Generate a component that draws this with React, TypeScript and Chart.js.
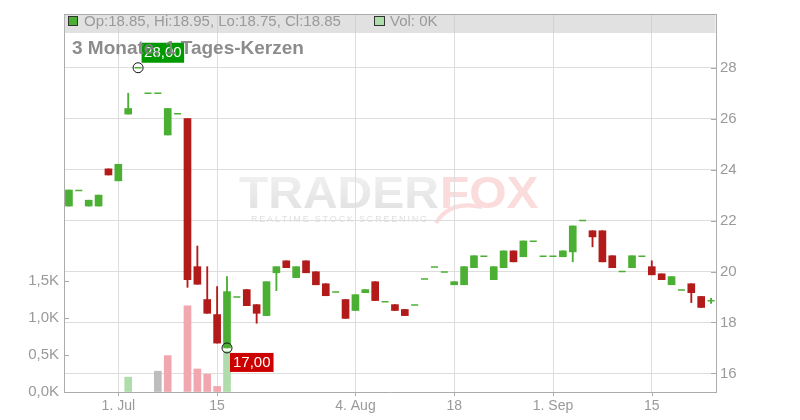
import React, { useEffect, useRef } from 'react';
import { Chart, registerables } from 'chart.js';

Chart.register(...registerables);

// ---- data (trading days, 1-day candles) ----
const dates = [
  '2025-06-24', '2025-06-25', '2025-06-26', '2025-06-27', '2025-06-30',
  '2025-07-01', '2025-07-02', '2025-07-03', '2025-07-04', '2025-07-07',
  '2025-07-08', '2025-07-09', '2025-07-10', '2025-07-11', '2025-07-14',
  '2025-07-15', '2025-07-16', '2025-07-17', '2025-07-18', '2025-07-21',
  '2025-07-22', '2025-07-23', '2025-07-24', '2025-07-25', '2025-07-28',
  '2025-07-29', '2025-07-30', '2025-07-31', '2025-08-01', '2025-08-04',
  '2025-08-05', '2025-08-06', '2025-08-07', '2025-08-08', '2025-08-11',
  '2025-08-12', '2025-08-13', '2025-08-14', '2025-08-15', '2025-08-18',
  '2025-08-19', '2025-08-20', '2025-08-21', '2025-08-22', '2025-08-25',
  '2025-08-26', '2025-08-27', '2025-08-28', '2025-08-29', '2025-09-01',
  '2025-09-02', '2025-09-03', '2025-09-04', '2025-09-05', '2025-09-08',
  '2025-09-09', '2025-09-10', '2025-09-11', '2025-09-12', '2025-09-15',
  '2025-09-16', '2025-09-17', '2025-09-18', '2025-09-19', '2025-09-22',
  '2025-09-23',
];

const opens = [
  22.57, 23.18, 22.57, 22.57, 24.03, 23.56, 26.18, 28.0, 27.0, 27.0,
  25.36, 26.19, 26.0, 20.19, 18.9, 18.31, 17.0, 19.0, 19.29, 18.7,
  18.27, 19.95, 20.42, 19.76, 20.42, 19.99, 19.52, 19.2, 18.9, 18.47,
  19.17, 19.6, 18.81, 18.7, 18.51, 18.69, 19.71, 20.18, 19.98, 19.48,
  19.48, 20.15, 20.6, 19.68, 20.15, 20.81, 20.58, 21.19, 20.6, 20.6,
  20.58, 20.77, 22.0, 21.6, 21.6, 20.62, 20.0, 20.15, 20.6, 20.19,
  19.91, 19.48, 19.27, 19.52, 19.02, 18.85,
];
const highs = [
  23.2, 23.18, 22.8, 23.0, 24.03, 24.21, 27.0, 28.0, 27.0, 27.0,
  26.4, 26.19, 26.0, 21.0, 20.19, 19.41, 19.8, 19.0, 19.29, 18.7,
  19.6, 20.19, 20.42, 20.19, 20.42, 19.99, 19.52, 19.2, 18.9, 19.09,
  19.29, 19.6, 18.81, 18.7, 18.51, 18.69, 19.71, 20.18, 19.98, 19.6,
  20.19, 20.62, 20.6, 20.19, 20.81, 20.81, 21.2, 21.19, 20.6, 20.6,
  20.81, 21.79, 22.0, 21.6, 21.6, 20.62, 20.0, 20.62, 20.6, 20.42,
  19.91, 19.8, 19.27, 19.52, 19.02, 18.95,
];
const lows = [
  22.57, 23.18, 22.57, 22.57, 23.79, 23.56, 26.18, 28.0, 27.0, 27.0,
  25.36, 26.19, 19.38, 19.5, 18.36, 17.19, 17.0, 19.0, 18.66, 17.97,
  18.27, 19.25, 20.15, 19.76, 19.95, 19.48, 19.05, 19.2, 18.16, 18.47,
  19.17, 18.86, 18.81, 18.47, 18.27, 18.69, 19.71, 20.18, 19.98, 19.48,
  19.48, 20.15, 20.6, 19.68, 20.15, 20.38, 20.58, 21.19, 20.6, 20.6,
  20.58, 20.38, 22.0, 20.97, 20.38, 20.15, 20.0, 20.15, 20.6, 19.87,
  19.68, 19.48, 19.27, 18.78, 18.59, 18.75,
];
const closes = [
  23.2, 23.18, 22.8, 23.0, 23.79, 24.21, 26.4, 28.0, 27.0, 27.0,
  26.4, 26.19, 19.68, 19.5, 18.36, 17.19, 19.21, 19.0, 18.66, 18.36,
  19.6, 20.19, 20.15, 20.19, 19.95, 19.48, 19.05, 19.2, 18.16, 19.09,
  19.29, 18.86, 18.81, 18.47, 18.27, 18.69, 19.71, 20.18, 19.98, 19.6,
  20.19, 20.62, 20.6, 20.19, 20.81, 20.38, 21.2, 21.19, 20.6, 20.6,
  20.81, 21.79, 22.0, 21.36, 20.38, 20.15, 20.0, 20.62, 20.6, 19.87,
  19.68, 19.8, 19.27, 19.17, 18.59, 18.85,
];
// volume in thousands
const volumes = [
  0, 0, 0, 0, 0, 0, 0.2, 0, 0, 0.28,
  0.49, 0, 1.16, 0.31, 0.24, 0.075, 0.55, 0, 0, 0,
  0, 0, 0, 0, 0, 0, 0, 0, 0, 0,
  0, 0, 0, 0, 0, 0, 0, 0, 0, 0,
  0, 0, 0, 0, 0, 0, 0, 0, 0, 0,
  0, 0, 0, 0, 0, 0, 0, 0, 0, 0,
  0, 0, 0, 0, 0, 0,
];

const tickDates = ['2025-07-01', '2025-07-15', '2025-08-04', '2025-08-18', '2025-09-01', '2025-09-15'];
const tickLabels = ['1. Jul', '15', '4. Aug', '18', '1. Sep', '15'];
const priceTicks = [16, 18, 20, 22, 24, 26, 28];
const volumeTicks = [0, 0.5, 1, 1.5];

const title = '3 Monate, 1 Tages-Kerzen';

// ---- styles ----
const FONT = 'Arial, "Liberation Sans", sans-serif';
const GREEN = '#4aaf32';
const RED = '#b31a1a';
const VOL_GREEN = '#aedcaa';
const VOL_RED = '#f0a7af';
const VOL_GREY = '#bdbdbd';
const GRID = '#dddddd';
const AXIS = '#ababab';
const TEXT = '#9a9a9a';

const tickIdx = tickDates.map((d) => dates.indexOf(d));

const fmtPrice = (v: number) => v.toFixed(2).replace('.', ',');

const overlayPlugin = {
  id: 'overlay',
  beforeDraw(chart: any) {
    const ctx = chart.ctx as CanvasRenderingContext2D;
    // watermark
    ctx.save();
    ctx.font = `bold 44px ${FONT}`;
    ctx.textBaseline = 'alphabetic';
    ctx.translate(239, 208);
    ctx.scale(1.09, 1);
    const g = ctx.createLinearGradient(0, -32, 0, 0);
    g.addColorStop(0, '#f0f0f0');
    g.addColorStop(1, '#e3e3e3');
    ctx.fillStyle = g;
    ctx.fillText('TRADER', 0, 0);
    const w = ctx.measureText('TRADER').width;
    ctx.fillStyle = '#fbdcdc';
    ctx.fillText('FOX', w + 1, 0);
    ctx.restore();
    // fox tail swoosh
    ctx.save();
    ctx.strokeStyle = '#fbdcdc';
    ctx.lineWidth = 4;
    ctx.beginPath();
    ctx.moveTo(436, 223);
    ctx.quadraticCurveTo(450, 200, 482, 207);
    ctx.stroke();
    ctx.restore();
    // subtitle
    ctx.save();
    ctx.font = `9px ${FONT}`;
    ctx.fillStyle = '#e0e0e0';
    const sub = 'REALTIME STOCK SCREENING';
    const chars = sub.split('');
    const total = chars.reduce((s, c) => s + ctx.measureText(c).width, 0);
    const sp = (176 - total) / (chars.length - 1);
    let x = 251;
    for (const c of chars) {
      ctx.fillText(c, x, 222);
      x += ctx.measureText(c).width + sp;
    }
    ctx.restore();
  },
  afterDraw(chart: any) {
    const ctx = chart.ctx as CanvasRenderingContext2D;
    const a = chart.chartArea;
    const ys = chart.scales.y;
    const vs = chart.scales.vol;
    const xs = chart.scales.x;
    ctx.save();
    // tick marks (inside)
    ctx.strokeStyle = AXIS;
    ctx.lineWidth = 1;
    ctx.beginPath();
    for (const v of priceTicks) {
      const y = Math.round(ys.getPixelForValue(v)) + 0.5;
      ctx.moveTo(a.right - 5, y);
      ctx.lineTo(a.right, y);
    }
    for (const v of volumeTicks) {
      const y = Math.round(vs.getPixelForValue(v)) + 0.5;
      ctx.moveTo(a.left, y);
      ctx.lineTo(a.left + 5, y);
    }
    for (const i of tickIdx) {
      const x = Math.round(xs.getPixelForValue(i)) + 0.5;
      ctx.moveTo(x, a.bottom);
      ctx.lineTo(x, a.bottom + 4);
    }
    ctx.stroke();
    // top border
    ctx.beginPath();
    ctx.moveTo(a.left, a.top + 0.5);
    ctx.lineTo(a.right, a.top + 0.5);
    ctx.stroke();
    // legend band
    ctx.fillStyle = 'rgba(200,200,200,0.55)';
    ctx.fillRect(a.left + 0.5, a.top + 1, a.right - a.left - 1, 18);
    const last = opens.length - 1;
    const upLast = closes[last] >= opens[last];
    ctx.fillStyle = upLast ? GREEN : RED;
    ctx.fillRect(68.5, 16.5, 9, 9);
    ctx.strokeStyle = '#333';
    ctx.strokeRect(68.5, 16.5, 9, 9);
    ctx.font = `15px ${FONT}`;
    ctx.fillStyle = TEXT;
    ctx.textBaseline = 'alphabetic';
    ctx.fillText(
      `Op:${opens[last].toFixed(2)}, Hi:${highs[last].toFixed(2)}, Lo:${lows[last].toFixed(2)}, Cl:${closes[last].toFixed(2)}`,
      84, 26
    );
    ctx.fillStyle = VOL_GREEN;
    ctx.fillRect(374.5, 16.5, 10, 9);
    ctx.strokeRect(374.5, 16.5, 10, 9);
    ctx.fillStyle = TEXT;
    ctx.fillText(`Vol: ${Math.round(volumes[last])}K`, 390, 26);

    // max / min markers
    let hiI = 0, loI = 0;
    highs.forEach((h, i) => { if (h > highs[hiI]) hiI = i; });
    lows.forEach((l, i) => { if (l < lows[loI]) loI = i; });
    const hx = xs.getPixelForValue(hiI), hy = ys.getPixelForValue(highs[hiI]);
    const lx = xs.getPixelForValue(loI), ly = ys.getPixelForValue(lows[loI]);
    ctx.strokeStyle = '#111';
    ctx.lineWidth = 1;
    ctx.beginPath(); ctx.arc(hx, hy, 5, 0, Math.PI * 2); ctx.stroke();
    ctx.beginPath(); ctx.arc(lx, ly, 5, 0, Math.PI * 2); ctx.stroke();
    ctx.font = `15px ${FONT}`;
    ctx.textBaseline = 'middle';
    const ht = fmtPrice(highs[hiI]);
    const lt = fmtPrice(lows[loI]);
    const hw = ctx.measureText(ht).width + 5;
    const lw = ctx.measureText(lt).width + 6;
    ctx.fillStyle = '#009a00';
    ctx.fillRect(hx + 3.5, hy - 25, hw, 20);
    ctx.fillStyle = '#ffffff';
    ctx.fillText(ht, hx + 6, hy - 14.5);
    ctx.fillStyle = '#cc0000';
    ctx.fillRect(lx + 3, ly + 5, lw, 19);
    ctx.fillStyle = '#ffffff';
    ctx.fillText(lt, lx + 6, ly + 15);

    // title
    ctx.font = `bold 19px ${FONT}`;
    ctx.textBaseline = 'alphabetic';
    ctx.fillStyle = 'rgba(128,128,128,0.9)';
    ctx.fillText(title, 72, 53.5);
    ctx.restore();
  },
};

export default function App() {
  const ref = useRef<HTMLCanvasElement | null>(null);

  useEffect(() => {
    if (!ref.current) return;
    const bodyColors = opens.map((o, i) => (closes[i] >= o ? GREEN : RED));
    const volColors = volumes.map((_, i) => {
      if (i === 0) return VOL_GREY;
      if (closes[i] > closes[i - 1]) return VOL_GREEN;
      if (closes[i] < closes[i - 1]) return VOL_RED;
      return VOL_GREY;
    });
    const chart = new Chart(ref.current, {
      type: 'bar',
      data: {
        labels: dates,
        datasets: [
          {
            type: 'line',
            label: 'doji',
            data: opens.map((o, i) => (o === closes[i] ? closes[i] : null)),
            showLine: false,
            pointStyle: 'line',
            pointRadius: 3.5,
            pointBorderWidth: 1.5,
            pointBorderColor: GREEN,
            pointBackgroundColor: GREEN,
            yAxisID: 'y',
            order: 0,
          } as any,
          {
            label: 'body',
            data: opens.map((o, i) => (o === closes[i] ? null : [o, closes[i]])),
            backgroundColor: bodyColors,
            barThickness: 7,
            grouped: false,
            yAxisID: 'y',
            order: 1,
          } as any,
          {
            label: 'wick',
            data: lows.map((l, i) => (l === highs[i] ? null : [l, highs[i]])),
            backgroundColor: bodyColors,
            barThickness: 1.2,
            grouped: false,
            yAxisID: 'y',
            order: 2,
          } as any,
          {
            label: 'volume',
            data: volumes.map((v) => (v > 0 ? v : null)),
            backgroundColor: volColors,
            barThickness: 7,
            grouped: false,
            yAxisID: 'vol',
            order: 3,
          } as any,
        ],
      },
      options: {
        responsive: false,
        animation: false,
        devicePixelRatio: 1,
        layout: { padding: { top: 12, left: 0, right: 0, bottom: 0 } },
        plugins: {
          legend: { display: false },
          tooltip: { enabled: false },
        },
        scales: {
          x: {
            type: 'category',
            offset: true,
            grid: { offset: false, color: GRID, drawTicks: false },
            border: { color: AXIS },
            ticks: {
              autoSkip: false,
              maxRotation: 0,
              color: TEXT,
              padding: 6,
              font: { size: 14, family: FONT },
              callback: (v: any) => {
                const k = tickIdx.indexOf(Number(v));
                return k >= 0 ? tickLabels[k] : '';
              },
            },
            afterBuildTicks: (axis: any) => {
              axis.ticks = tickIdx.map((i) => ({ value: i }));
            },
            afterFit: (s: any) => { s.height = 28; },
          },
          y: {
            position: 'right',
            min: 15.27,
            max: 30.11,
            grid: { color: GRID, drawTicks: false },
            border: { color: AXIS },
            ticks: {
              color: TEXT,
              padding: 4,
              font: { size: 15, family: FONT },
              callback: (v: any) => String(v),
            },
            afterBuildTicks: (axis: any) => {
              axis.ticks = priceTicks.map((v) => ({ value: v }));
            },
            afterFit: (s: any) => { s.width = 84; },
          },
          vol: {
            position: 'left',
            min: 0,
            max: 5.09,
            grid: { drawOnChartArea: false, drawTicks: false },
            border: { color: AXIS },
            ticks: {
              color: TEXT,
              padding: 5,
              font: { size: 15, family: FONT },
              callback: (v: any) => Number(v).toFixed(1).replace('.', ',') + 'K',
            },
            afterBuildTicks: (axis: any) => {
              axis.ticks = volumeTicks.map((v) => ({ value: v }));
            },
            afterFit: (s: any) => { s.width = 64; },
          },
        },
      } as any,
      plugins: [overlayPlugin],
    });
    return () => chart.destroy();
  }, []);

  return (
    <div style={{ position: 'absolute', left: 0, top: 0, width: 800, height: 420, background: '#fff' }}>
      <canvas ref={ref} width={800} height={420} />
    </div>
  );
}
